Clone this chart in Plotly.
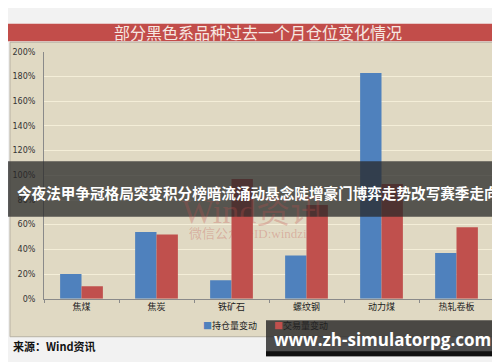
import plotly.graph_objects as go

categories = ["焦煤", "焦炭", "铁矿石", "螺纹钢", "动力煤", "热轧卷板"]
open_interest_change = [20, 54, 15, 35, 183, 37]
volume_change = [10, 52, 97, 76, 93, 58]
series_names = ["持仓量变动", "交易量变动"]
series_colors = ["#4f81bd", "#c0504d"]
y_ticks = [0, 20, 40, 60, 80, 100, 120, 140, 160, 180, 200]
y_tick_labels = [f"{v}%" for v in y_ticks]

W, H = 500, 362
def py(y):
    return 1 - y / H
def px(x):
    return x / W

CJK = "Noto Sans CJK SC"

fig = go.Figure()
fig.add_trace(go.Bar(x=categories, y=open_interest_change, name=series_names[0],
                     marker=dict(color=series_colors[0], line=dict(width=0))))
fig.add_trace(go.Bar(x=categories, y=volume_change, name=series_names[1],
                     marker=dict(color=series_colors[1], line=dict(width=0))))

shapes = [
    dict(type="rect", xref="paper", yref="paper", x0=0, x1=1, y0=py(30), y1=py(12),
         fillcolor="#c24d4a", line=dict(width=0), layer="below"),
    dict(type="rect", xref="paper", yref="paper", x0=px(2), x1=px(497), y0=py(333), y1=py(31),
         fillcolor="#e0d9c3", line=dict(color="#b8b2a3", width=1), layer="below"),
    dict(type="line", xref="paper", yref="paper", x0=px(486), x1=px(486), y0=py(294), y1=py(41),
         line=dict(color="#f4eed8", width=1.5), layer="below"),
    dict(type="rect", xref="paper", yref="paper", x0=0, x1=1, y0=py(210), y1=py(153),
         fillcolor="rgba(40,40,40,0.75)", line=dict(width=0), layer="above"),
    dict(type="rect", xref="paper", yref="paper", x0=px(258), x1=px(491), y0=py(353), y1=py(316),
         fillcolor="rgba(40,40,40,0.82)", line=dict(width=0), layer="above"),
    dict(type="rect", xref="paper", yref="paper", x0=px(258), x1=px(491), y0=py(353), y1=py(348),
         fillcolor="rgba(10,10,10,0.9)", line=dict(width=0), layer="above"),
]

annotations = [
    dict(text="部分黑色系品种过去一个月仓位变化情况", xref="paper", yref="paper",
         x=0.5, y=py(21), xanchor="center", yanchor="middle", showarrow=False,
         font=dict(family=CJK, size=16, color="#f6e8e2")),
    dict(text="Wind资讯", xref="paper", yref="paper", x=px(245), y=py(205),
         xanchor="center", yanchor="middle", showarrow=False,
         font=dict(family="Liberation Serif, " + CJK, size=34, color="rgba(192,80,77,0.28)")),
    dict(text="微信公众号ID:windzixun", xref="paper", yref="paper", x=px(250), y=py(227),
         xanchor="center", yanchor="middle", showarrow=False,
         font=dict(family="Liberation Serif, " + CJK, size=13, color="rgba(192,80,77,0.3)")),
    dict(text=f'<span style="color:{series_colors[0]}">■</span>{series_names[0]}',
         xref="paper", yref="paper", x=px(193), y=py(322), xanchor="left", yanchor="middle",
         showarrow=False, font=dict(family=CJK, size=9, color="#222222")),
    dict(text=f'<span style="color:{series_colors[1]}">■</span>{series_names[1]}',
         xref="paper", yref="paper", x=px(264), y=py(322), xanchor="left", yanchor="middle",
         showarrow=False, font=dict(family=CJK, size=9, color="#222222")),
    dict(text="<b>今夜法甲争冠格局突变积分榜暗流涌动悬念陡增豪门博弈走势改写赛季走向</b>",
         xref="paper", yref="paper", x=0.5, y=py(185), xanchor="center", yanchor="middle",
         showarrow=False, font=dict(family=CJK, size=14.6, color="#ffffff")),
    dict(text="<b>来源：Wind资讯</b>", xref="paper", yref="paper", x=px(3), y=py(343),
         xanchor="left", yanchor="middle", showarrow=False,
         font=dict(family=CJK, size=11, color="#111111")),
    dict(text="<b>www.zh-simulatorpg.com</b>", xref="paper", yref="paper", x=px(374), y=py(336),
         xanchor="center", yanchor="middle", showarrow=False,
         font=dict(family="Open Sans, DejaVu Sans", size=17, color="#ffffff")),
]

fig.update_layout(
    width=W, height=H,
    margin=dict(l=0, r=0, t=0, b=0),
    paper_bgcolor="#f2f2f2",
    plot_bgcolor="rgba(0,0,0,0)",
    barmode="group", bargap=0.43, bargroupgap=0,
    showlegend=False,
    xaxis=dict(domain=[px(36), px(486)], showgrid=False, showline=True,
               linecolor="#8a8a8a", linewidth=1, ticks="outside", tickson="boundaries",
               ticklen=3, tickcolor="#8a8a8a",
               tickfont=dict(family=CJK, size=9, color="#222222")),
    yaxis=dict(domain=[py(294), py(41)], range=[0, 200], tickmode="array",
               tickvals=y_ticks, ticktext=y_tick_labels,
               showgrid=True, gridcolor="#f4eed8", gridwidth=1.2,
               showline=True, linecolor="#8a8a8a", linewidth=1, zeroline=False,
               ticklabelstandoff=6,
               tickfont=dict(family="DejaVu Sans", size=8, color="#333333")),
    shapes=shapes,
    annotations=annotations,
)

fig.write_html("out.html")
